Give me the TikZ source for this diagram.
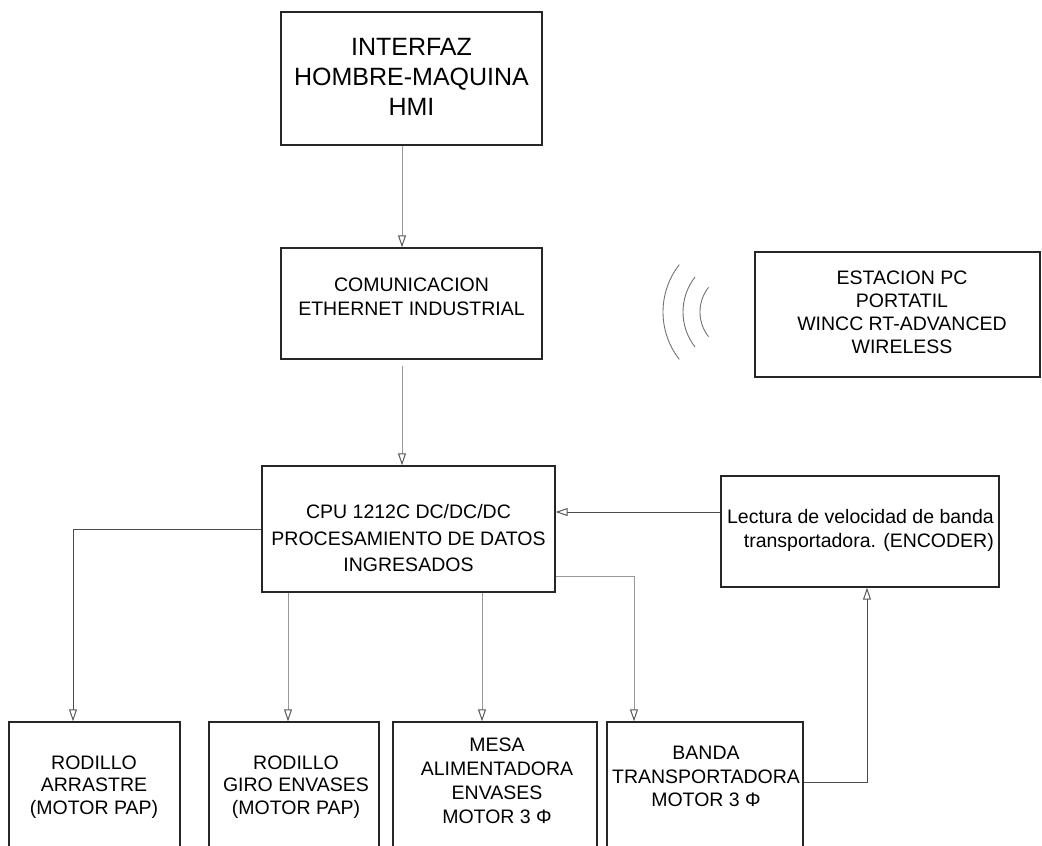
\documentclass[tikz,border=0pt]{standalone}
\usepackage{fontspec}
\setmainfont{Liberation Sans}
\usetikzlibrary{arrows.meta}
\tikzset{
  blk/.style={draw=black!85,line width=1.4pt,inner sep=0pt},
  txt/.style={align=center,inner sep=0pt,font=\fontsize{19.5}{24}\selectfont},
  con/.style={draw=black!40,line width=1pt},
  cond/.style={draw=black!70,line width=1pt},
}
\begin{document}
\begin{tikzpicture}[x=1pt,y=-1pt,>={Triangle[open,length=12pt,width=8pt,color=black!65]}]
\useasboundingbox (0,0) rectangle (1042,846);
\clip (0,0) rectangle (1042,846);
% bloques
\node[blk,minimum width=261,minimum height=133] (hmi) at (411.5,78.5) {};
\node[blk,minimum width=261,minimum height=111] (com) at (411.5,303.5) {};
\node[blk,minimum width=285,minimum height=125] (est) at (897.5,314.5) {};
\node[blk,minimum width=293,minimum height=126] (cpu) at (408.5,529) {};
\node[blk,minimum width=278,minimum height=111] (enc) at (860,531.5) {};
\node[blk,minimum width=171,minimum height=148] (b1) at (94.5,796) {};
\node[blk,minimum width=170,minimum height=148] (b2) at (294,796) {};
\node[blk,minimum width=204,minimum height=148] (b3) at (495,796) {};
\node[blk,minimum width=196,minimum height=148] (b4) at (705,796) {};
% textos
\node[txt,font=\fontsize{25}{30}\selectfont] (hmi-t) at (411.5,76.5)
	{INTERFAZ\\HOMBRE-MAQUINA\\HMI};
\node[txt] (com-t) at (411.5,297) {COMUNICACION\\ETHERNET INDUSTRIAL};
\node[txt,font=\fontsize{19.5}{23}\selectfont] (est-t) at (902,312.5)
	{ESTACION PC\\PORTATIL\\WINCC RT-ADVANCED\\WIRELESS};
\node[txt,font=\fontsize{19.5}{26.5}\selectfont] (cpu-t) at (408.5,538.5)
	{CPU 1212C DC/DC/DC\\PROCESAMIENTO DE DATOS\\INGRESADOS};
\node[txt,align=right,anchor=east] (enc-t) at (994,530)
	{Lectura de velocidad de banda\\transportadora. (ENCODER)};
\node[txt,font=\fontsize{19.5}{22.5}\selectfont] (b1-t) at (94,787)
	{RODILLO\\ARRASTRE\\(MOTOR PAP)};
\node[txt,font=\fontsize{19.5}{22.5}\selectfont] (b2-t) at (296,787)
	{RODILLO\\GIRO ENVASES\\(MOTOR PAP)};
\node[txt] (b3-t) at (497,781)
	{MESA\\ALIMENTADORA\\ENVASES\\MOTOR 3 Φ};
\node[txt,font=\fontsize{19.5}{23.5}\selectfont] (b4-t) at (706,776.5)
	{BANDA\\TRANSPORTADORA\\MOTOR 3 Φ};
% ondas
\foreach \r in {40,57,77}{
\draw[black!55,line width=0.9pt] (740,312) ++(142:\r) arc[start angle=142,end angle=218,radius=\r];
};
% conexiones
\coordinate (comout) at ([xshift=-9.5]com.south);
\coordinate (b1in) at ([xshift=-21.5]b1.north);
\coordinate (b2in) at ([xshift=-6]b2.north);
\coordinate (b3in) at ([xshift=-13]b3.north);
\coordinate (b4in) at ([xshift=-71]b4.north);
\coordinate (encout) at ([yshift=19.5]enc.west);
\coordinate (encin) at ([xshift=7]enc.south);
\draw[con,->] ([xshift=-9.5]hmi.south) -- ([xshift=-9.5]com.north);
\draw[con,->] ([yshift=-6]comout) -- (comout |- cpu.north);
\draw[cond,->] (cpu.west) -| (b1in);
\draw[con,->] (cpu.south -| b2in) -- (b2in);
\draw[con,->] (cpu.south -| b3in) -- (b3in);
\draw[con,->] ([yshift=16]cpu.south east) -| (b4in);
\draw[cond,->] (encout) -- (encout -| cpu.east);
\draw[cond,->] ([yshift=14]b4.east) -| (encin);
\end{tikzpicture}
\end{document}
